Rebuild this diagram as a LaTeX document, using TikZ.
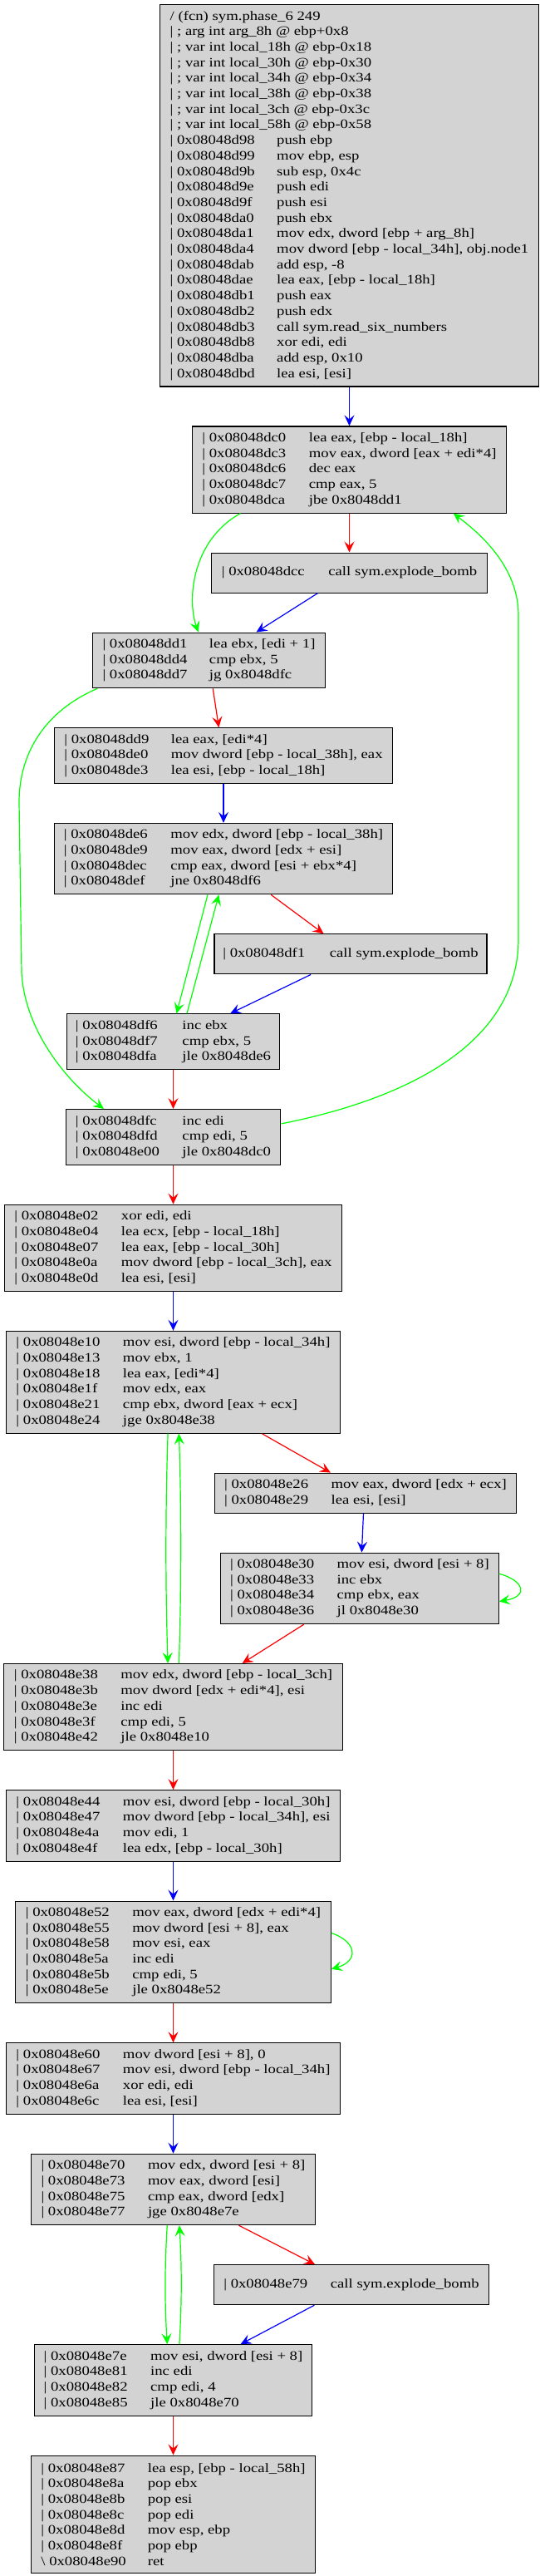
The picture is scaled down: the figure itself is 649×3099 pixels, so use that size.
\documentclass[tikz,border=0pt]{standalone}
\usepackage{fontspec}
\usepackage{xcolor}
\usetikzlibrary{arrows.meta}
\newfontfamily\cfgfont{Liberation Serif}[FakeStretch=1.2]
\definecolor{cfggray}{HTML}{D3D3D3}
\definecolor{cfggreen}{HTML}{00FF00}
\definecolor{cfgred}{HTML}{FF0000}
\definecolor{cfgblue}{HTML}{0000FF}
\newcommand\insn[3][|]{\makebox[128.5pt][l]{#1\ #2}#3}
\tikzset{
        blk_node/.style={draw=black, line width=1.1pt, fill=cfggray, align=left, anchor=north,
                         inner sep=0pt, font=\cfgfont\fontsize{15.6}{18.7}\selectfont},
        e_base/.style={line width=1.2pt, -{Stealth[length=13pt, width=12pt, inset=5pt]}},
        e_true/.style={e_base, draw=cfggreen},
        e_false/.style={e_base, draw=cfgred},
        e_uncond/.style={e_base, draw=cfgblue}
    }

\begin{document}
\begin{tikzpicture}[x=1pt, y=-1pt]
    \fill[white] (0,0) rectangle (649,3099);
    \path[use as bounding box] (0,0) rectangle (649,3099);

    \node[blk_node, minimum width=456pt, minimum height=459.4pt] (b_d98) at (420.5,5) {%
        / (fcn) sym.phase\_6 249\\
        | ; arg int arg\_8h @ ebp+0x8\\
        | ; var int local\_18h @ ebp-0x18\\
        | ; var int local\_30h @ ebp-0x30\\
        | ; var int local\_34h @ ebp-0x34\\
        | ; var int local\_38h @ ebp-0x38\\
        | ; var int local\_3ch @ ebp-0x3c\\
        | ; var int local\_58h @ ebp-0x58\\
        \insn{0x08048d98}{push ebp}\\
        \insn{0x08048d99}{mov ebp, esp}\\
        \insn{0x08048d9b}{sub esp, 0x4c}\\
        \insn{0x08048d9e}{push edi}\\
        \insn{0x08048d9f}{push esi}\\
        \insn{0x08048da0}{push ebx}\\
        \insn{0x08048da1}{mov edx, dword [ebp + arg\_8h]}\\
        \insn{0x08048da4}{mov dword [ebp - local\_34h], obj.node1}\\
        \insn{0x08048dab}{add esp, -8}\\
        \insn{0x08048dae}{lea eax, [ebp - local\_18h]}\\
        \insn{0x08048db1}{push eax}\\
        \insn{0x08048db2}{push edx}\\
        \insn{0x08048db3}{call sym.read\_six\_numbers}\\
        \insn{0x08048db8}{xor edi, edi}\\
        \insn{0x08048dba}{add esp, 0x10}\\
        \insn{0x08048dbd}{lea esi, [esi]}};
    \node[blk_node, minimum width=378.75pt, minimum height=104.1pt] (b_dc0) at (420.5,512.4) {%
        \insn{0x08048dc0}{lea eax, [ebp - local\_18h]}\\
        \insn{0x08048dc3}{mov eax, dword [eax + edi*4]}\\
        \insn{0x08048dc6}{dec eax}\\
        \insn{0x08048dc7}{cmp eax, 5}\\
        \insn{0x08048dca}{jbe 0x8048dd1}};
    \node[blk_node, minimum width=331.25pt, minimum height=48pt] (b_dcc) at (420.5,664.5) {%
        \insn{0x08048dcc}{call sym.explode\_bomb}};
    \node[blk_node, minimum width=280pt, minimum height=66.7pt] (b_dd1) at (251.5,760.5) {%
        \insn{0x08048dd1}{lea ebx, [edi + 1]}\\
        \insn{0x08048dd4}{cmp ebx, 5}\\
        \insn{0x08048dd7}{jg 0x8048dfc}};
    \node[blk_node, minimum width=407pt, minimum height=66.7pt] (b_dd9) at (269,875.2) {%
        \insn{0x08048dd9}{lea eax, [edi*4]}\\
        \insn{0x08048de0}{mov dword [ebp - local\_38h], eax}\\
        \insn{0x08048de3}{lea esi, [ebp - local\_18h]}};
    \node[blk_node, minimum width=407pt, minimum height=85.4pt] (b_de6) at (269,989.9) {%
        \insn{0x08048de6}{mov edx, dword [ebp - local\_38h]}\\
        \insn{0x08048de9}{mov eax, dword [edx + esi]}\\
        \insn{0x08048dec}{cmp eax, dword [esi + ebx*4]}\\
        \insn{0x08048def}{jne 0x8048df6}};
    \node[blk_node, minimum width=328pt, minimum height=48pt] (b_df1) at (422,1123.3) {%
        \insn{0x08048df1}{call sym.explode\_bomb}};
    \node[blk_node, minimum width=255.5pt, minimum height=66.7pt] (b_df6) at (208.5,1219.3) {%
        \insn{0x08048df6}{inc ebx}\\
        \insn{0x08048df7}{cmp ebx, 5}\\
        \insn{0x08048dfa}{jle 0x8048de6}};
    \node[blk_node, minimum width=258.8pt, minimum height=66.7pt] (b_dfc) at (208.5,1334) {%
        \insn{0x08048dfc}{inc edi}\\
        \insn{0x08048dfd}{cmp edi, 5}\\
        \insn{0x08048e00}{jle 0x8048dc0}};
    \node[blk_node, minimum width=406.2pt, minimum height=104.1pt] (b_e02) at (208.5,1448.7) {%
        \insn{0x08048e02}{xor edi, edi}\\
        \insn{0x08048e04}{lea ecx, [ebp - local\_18h]}\\
        \insn{0x08048e07}{lea eax, [ebp - local\_30h]}\\
        \insn{0x08048e0a}{mov dword [ebp - local\_3ch], eax}\\
        \insn{0x08048e0d}{lea esi, [esi]}};
    \node[blk_node, minimum width=402.5pt, minimum height=122.8pt] (b_e10) at (208.5,1600.8) {%
        \insn{0x08048e10}{mov esi, dword [ebp - local\_34h]}\\
        \insn{0x08048e13}{mov ebx, 1}\\
        \insn{0x08048e18}{lea eax, [edi*4]}\\
        \insn{0x08048e1f}{mov edx, eax}\\
        \insn{0x08048e21}{cmp ebx, dword [eax + ecx]}\\
        \insn{0x08048e24}{jge 0x8048e38}};
    \node[blk_node, minimum width=363.7pt, minimum height=48pt] (b_e26) at (440,1771.6) {%
        \insn{0x08048e26}{mov eax, dword [edx + ecx]}\\
        \insn{0x08048e29}{lea esi, [esi]}};
    \node[blk_node, minimum width=334.6pt, minimum height=85.4pt] (b_e30) at (433,1867.6) {%
        \insn{0x08048e30}{mov esi, dword [esi + 8]}\\
        \insn{0x08048e33}{inc ebx}\\
        \insn{0x08048e34}{cmp ebx, eax}\\
        \insn{0x08048e36}{jl 0x8048e30}};
    \node[blk_node, minimum width=408pt, minimum height=104.1pt] (b_e38) at (208.5,2001) {%
        \insn{0x08048e38}{mov edx, dword [ebp - local\_3ch]}\\
        \insn{0x08048e3b}{mov dword [edx + edi*4], esi}\\
        \insn{0x08048e3e}{inc edi}\\
        \insn{0x08048e3f}{cmp edi, 5}\\
        \insn{0x08048e42}{jle 0x8048e10}};
    \node[blk_node, minimum width=402.5pt, minimum height=85.4pt] (b_e44) at (208.5,2153.1) {%
        \insn{0x08048e44}{mov esi, dword [ebp - local\_30h]}\\
        \insn{0x08048e47}{mov dword [ebp - local\_34h], esi}\\
        \insn{0x08048e4a}{mov edi, 1}\\
        \insn{0x08048e4f}{lea edx, [ebp - local\_30h]}};
    \node[blk_node, minimum width=379.6pt, minimum height=122.8pt] (b_e52) at (208.5,2286.5) {%
        \insn{0x08048e52}{mov eax, dword [edx + edi*4]}\\
        \insn{0x08048e55}{mov dword [esi + 8], eax}\\
        \insn{0x08048e58}{mov esi, eax}\\
        \insn{0x08048e5a}{inc edi}\\
        \insn{0x08048e5b}{cmp edi, 5}\\
        \insn{0x08048e5e}{jle 0x8048e52}};
    \node[blk_node, minimum width=402.5pt, minimum height=85.4pt] (b_e60) at (208.5,2457.3) {%
        \insn{0x08048e60}{mov dword [esi + 8], 0}\\
        \insn{0x08048e67}{mov esi, dword [ebp - local\_34h]}\\
        \insn{0x08048e6a}{xor edi, edi}\\
        \insn{0x08048e6c}{lea esi, [esi]}};
    \node[blk_node, minimum width=341.6pt, minimum height=85.4pt] (b_e70) at (208.5,2590.7) {%
        \insn{0x08048e70}{mov edx, dword [esi + 8]}\\
        \insn{0x08048e73}{mov eax, dword [esi]}\\
        \insn{0x08048e75}{cmp eax, dword [edx]}\\
        \insn{0x08048e77}{jge 0x8048e7e}};
    \node[blk_node, minimum width=331.2pt, minimum height=48pt] (b_e79) at (423,2724.1) {%
        \insn{0x08048e79}{call sym.explode\_bomb}};
    \node[blk_node, minimum width=334.3pt, minimum height=85.4pt] (b_e7e) at (208.5,2820.1) {%
        \insn{0x08048e7e}{mov esi, dword [esi + 8]}\\
        \insn{0x08048e81}{inc edi}\\
        \insn{0x08048e82}{cmp edi, 4}\\
        \insn{0x08048e85}{jle 0x8048e70}};
    \node[blk_node, minimum width=342.1pt, minimum height=141.5pt] (b_e87) at (208.5,2953.5) {%
        \insn{0x08048e87}{lea esp, [ebp - local\_58h]}\\
        \insn{0x08048e8a}{pop ebx}\\
        \insn{0x08048e8b}{pop esi}\\
        \insn{0x08048e8c}{pop edi}\\
        \insn{0x08048e8d}{mov esp, ebp}\\
        \insn{0x08048e8f}{pop ebp}\\
        \insn[\textbackslash]{0x08048e90}{ret}};

    \draw[e_uncond] (b_d98.south) -- (b_dc0.north);
    \draw[e_false] (b_dc0.south) -- (b_dcc.north);
    \draw[e_true] ([xshift=-131pt]b_dc0.south) .. controls +(-58,32) and +(-14,-40) .. ([xshift=-12.75pt]b_dd1.north);
    \draw[e_uncond] ([xshift=-38pt]b_dcc.south) -- ([xshift=57pt]b_dd1.north);
    \draw[e_false] ([xshift=4.75pt]b_dd1.south) -- ([xshift=-5.6pt]b_dd9.north);
    \draw[e_true] ([xshift=6.3pt]b_dd1.south west) .. controls (55,855) and (23,905) .. (23,965)
        -- (26,1170) .. controls (30,1240) and (80,1300) .. ([xshift=-83.5pt]b_dfc.north);
    \draw[e_uncond] (b_dd9.south) -- (b_de6.north);
    \draw[e_false] ([xshift=57.25pt]b_de6.south) -- ([xshift=-32.4pt]b_df1.north);
    \draw[e_true] ([xshift=-19pt]b_de6.south) -- ([xshift=4pt]b_df6.north);
    \draw[e_true] ([xshift=16.5pt]b_df6.north) -- ([xshift=-5.6pt]b_de6.south);
    \draw[e_uncond] ([xshift=-47.8pt]b_df1.south) -- ([xshift=68.6pt]b_df6.north);
    \draw[e_false] (b_df6.south) -- (b_dfc.north);
    \draw[e_true] ([yshift=16pt]b_dfc.east) .. controls (500,1320) and (624,1250) .. (624,1130)
        -- (624,740) .. controls (624,680) and (575,640) .. ([xshift=125.3pt]b_dc0.south);
    \draw[e_false] (b_dfc.south) -- (b_e02.north);
    \draw[e_uncond] (b_e02.south) -- (b_e10.north);
    \draw[e_false] ([xshift=106.9pt]b_e10.south) -- ([xshift=-42.1pt]b_e26.north);
    \draw[e_true] ([xshift=-6.4pt]b_e10.south) .. controls +(-3,90) and +(-3,-90) .. ([xshift=-6.4pt]b_e38.north);
    \draw[e_true] ([xshift=6.9pt]b_e38.north) .. controls +(3,-90) and +(3,90) .. ([xshift=6.9pt]b_e10.south);
    \draw[e_uncond] ([xshift=-2.5pt]b_e26.south) -- ([xshift=2.4pt]b_e30.north);
    \draw[e_true] ([yshift=17.6pt]b_e30.east) .. controls +(30,8) and +(36,-6) .. ([yshift=-15.7pt]b_e30.east);
    \draw[e_false] ([xshift=-67.1pt]b_e30.south) -- ([xshift=83.1pt]b_e38.north);
    \draw[e_false] (b_e38.south) -- (b_e44.north);
    \draw[e_uncond] (b_e44.south) -- (b_e52.north);
    \draw[e_true] ([yshift=23pt]b_e52.east) .. controls +(30,10) and +(34,-10) .. ([yshift=-20.4pt]b_e52.east);
    \draw[e_false] (b_e52.south) -- (b_e60.north);
    \draw[e_uncond] (b_e60.south) -- (b_e70.north);
    \draw[e_false] ([xshift=79pt]b_e70.south) -- ([xshift=-43.9pt]b_e79.north);
    \draw[e_true] ([xshift=-7.25pt]b_e70.south) .. controls +(-3,50) and +(-3,-50) .. ([xshift=-7.25pt]b_e7e.north);
    \draw[e_true] ([xshift=7.4pt]b_e7e.north) .. controls +(3,-50) and +(3,50) .. ([xshift=7.4pt]b_e70.south);
    \draw[e_uncond] ([xshift=-44.6pt]b_e79.south) -- ([xshift=81.1pt]b_e7e.north);
    \draw[e_false] (b_e7e.south) -- (b_e87.north);
\end{tikzpicture}
\end{document}
